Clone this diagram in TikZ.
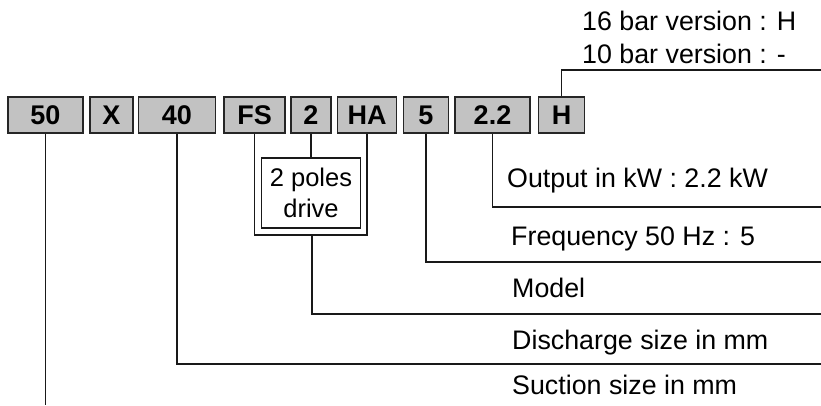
\documentclass[tikz,border=0pt]{standalone}
\usepackage{fontspec}
\setmainfont{Liberation Sans}
\begin{document}
\begin{tikzpicture}[x=1pt,y=-1pt,
  codebox/.style={draw=black!85,line width=1.6pt,fill=black!24,minimum height=36pt,inner sep=0pt,
    font=\fontsize{27}{30}\selectfont\bfseries},
  conn/.style={line width=1.4pt,draw=black!90},
  lbl/.style={anchor=base west,inner sep=0pt,font=\fontsize{26.8}{30}\selectfont}]
\useasboundingbox (0,0) rectangle (821,405);
% code boxes
\node[codebox,minimum width=75pt] (b50) at (45.5,115) {50};
\node[codebox,minimum width=43pt] (bX) at (111.5,115) {X};
\node[codebox,minimum width=77pt] (b40) at (177,115) {40};
\node[codebox,minimum width=61pt] (bFS) at (254.5,115) {FS};
\node[codebox,minimum width=40pt] (b2) at (311,115) {2};
\node[codebox,minimum width=59pt] (bHA) at (367,115) {HA};
\node[codebox,minimum width=45pt] (b5) at (426,115) {5};
\node[codebox,minimum width=75pt] (b22) at (492.5,115) {2.2};
\node[codebox,minimum width=46pt] (bH) at (561.5,115) {H};
% 2 poles drive box
\node[draw=black!90,line width=1.4pt,minimum width=99pt,minimum height=70pt,align=center,inner sep=0pt,
  font=\fontsize{25.5}{31}\selectfont] (poles) at (311,193) {2 poles\\drive};
% labels
\node[lbl] (t16) at (582,30) {16 bar version : H};
\node[lbl] (t10) at (582,63) {10 bar version : -};
\node[lbl] (tOut) at (507,187) {Output in kW : 2.2 kW};
\node[lbl] (tFreq) at (511,245) {Frequency 50 Hz : 5};
\node[lbl] (tModel) at (512,297) {Model};
\node[lbl] (tDis) at (512,349) {Discharge size in mm};
\node[lbl] (tSuc) at (512,394) {Suction size in mm};
% line ends
\coordinate (eH) at (821,70);
\coordinate (eOut) at (821,207);
\coordinate (eFreq) at (821,262);
\coordinate (eModel) at (821,314);
\coordinate (eDis) at (821,364);
\coordinate (eSuc) at (43,405);
\coordinate (brk) at (312,235);
% connectors
\draw[conn] (bH.north) |- (eH);
\draw[conn] (b22.south) |- (eOut);
\draw[conn] (b5.south) |- (eFreq);
\draw[conn] (b2.south) -- (poles.north);
\draw[conn] (bFS.south) -- (bFS.south |- brk) -| (bHA.south);
\draw[conn] (brk) |- (eModel);
\draw[conn] (b40.south) |- (eDis);
\draw[conn] (b50.south) -- (b50.south |- eSuc);
\end{tikzpicture}
\end{document}
